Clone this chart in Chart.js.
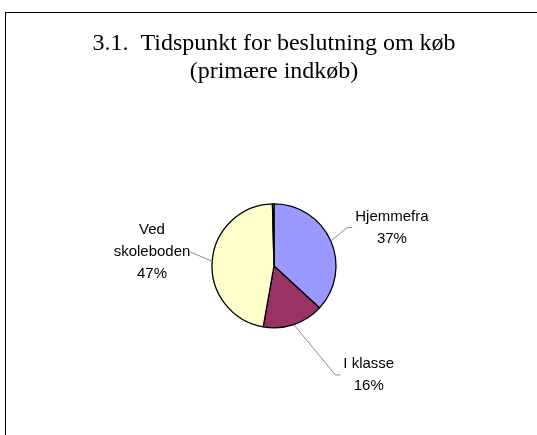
<!DOCTYPE html>
<html>
<head>
<meta charset="utf-8">
<script src="https://cdn.jsdelivr.net/npm/chart.js@4/dist/chart.umd.min.js"></script>
<style>
  html, body { margin: 0; padding: 0; background: #fff; }
</style>
</head>
<body>
<canvas id="pieChart" width="537" height="435"></canvas>
<script>
// Chart data
const titleLines = ['3.1.  Tidspunkt for beslutning om køb', '(primære indkøb)'];
const categories = ['Hjemmefra', 'I klasse', 'Ved skoleboden', 'Andet'];
const labelLines = [['Hjemmefra'], ['I klasse'], ['Ved', 'skoleboden'], []];
const shares = [37, 16, 47, 0.4];
const sliceColors = ['#9999FF', '#993366', '#FFFFCC', '#CCFFFF'];

// where each label sits: angle from top (deg), distance in radii, side the leader attaches to
const labelPlacement = [
    { angle: 72, dist: 2.0, side: 'left' },
    { angle: 139, dist: 2.33, side: 'left' },
    { angle: 276.5, dist: 1.98, side: 'right' },
    null
];

const total = shares.reduce((a, b) => a + b, 0);

// Draws the outer frame of the chart sheet
const framePlugin = {
    id: 'frame',
    beforeDraw(chart) {
        const ctx = chart.ctx;
        ctx.save();
        ctx.strokeStyle = '#000';
        ctx.lineWidth = 1;
        ctx.strokeRect(5.5, 12.5, 800, 800);
        ctx.restore();
    }
};

// Excel-style outside labels with leader lines
const sliceLabelPlugin = {
    id: 'sliceLabels',
    afterDatasetsDraw(chart) {
        const ctx = chart.ctx;
        const arcs = chart.getDatasetMeta(0).data;
        const lineHeight = 22;
        ctx.save();
        ctx.font = '15px "Liberation Sans", Arial, sans-serif';
        ctx.fillStyle = '#000';
        ctx.textAlign = 'center';
        ctx.textBaseline = 'middle';

        arcs.forEach((arc, i) => {
            const place = labelPlacement[i];
            if (!place) return;
            const { x, y, outerRadius, startAngle, endAngle } = arc.getProps(['x', 'y', 'outerRadius', 'startAngle', 'endAngle'], true);
            const pct = Math.round(shares[i] / total * 100) + '%';
            const lines = labelLines[i].concat([pct]);

            const a = place.angle * Math.PI / 180;
            const lx = x + place.dist * outerRadius * Math.sin(a);
            const ly = y - place.dist * outerRadius * Math.cos(a);
            const top = ly - (lines.length - 1) * lineHeight / 2;
            const maxW = Math.max(...lines.map(t => ctx.measureText(t).width));

            lines.forEach((t, k) => ctx.fillText(t, lx, top + k * lineHeight));

            // leader line
            const mid = (startAngle + endAngle) / 2;
            const sx = x + outerRadius * Math.cos(mid);
            const sy = y + outerRadius * Math.sin(mid);
            let ex, kx;
            if (place.side === 'left') {
                ex = lx - maxW / 2 - 3;
                kx = ex - 5;
            } else {
                ex = lx + maxW / 2;
                kx = ex;
            }
            ctx.beginPath();
            ctx.strokeStyle = '#8c8c8c';
            ctx.lineWidth = 1;
            ctx.moveTo(sx, sy);
            ctx.lineTo(kx, ly);
            ctx.lineTo(ex, ly);
            ctx.stroke();
        });
        ctx.restore();
    }
};

const ctx = document.getElementById('pieChart').getContext('2d');
new Chart(ctx, {
    type: 'pie',
    data: {
        labels: categories,
        datasets: [{
            data: shares,
            backgroundColor: sliceColors,
            borderColor: '#000',
            borderWidth: 1.3
        }]
    },
    options: {
        responsive: false,
        animation: false,
        radius: 62,
        layout: {
            padding: { left: 11, right: 0, top: 0, bottom: 0 }
        },
        plugins: {
            legend: { display: false },
            tooltip: { enabled: false },
            title: {
                display: true,
                text: titleLines,
                color: '#000',
                font: { family: '"Liberation Serif", "Times New Roman", serif', size: 24, weight: 'normal', lineHeight: 1.15 },
                padding: { top: 30, bottom: 11.6 }
            }
        }
    },
    plugins: [framePlugin, sliceLabelPlugin]
});
</script>
</body>
</html>
